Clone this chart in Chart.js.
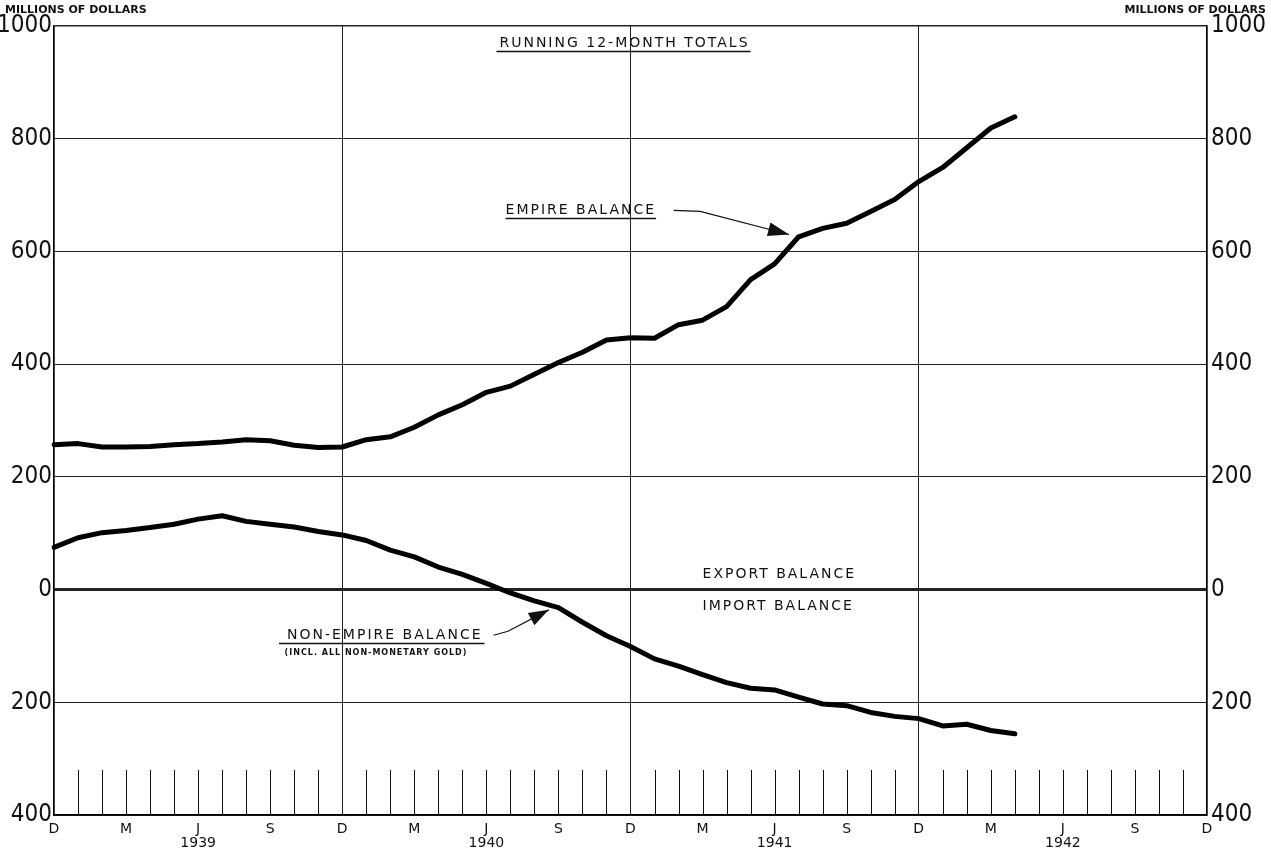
<!DOCTYPE html>
<html>
<head>
<meta charset="utf-8">
<script src="https://cdn.jsdelivr.net/npm/chart.js@4"></script>
<style>
  body { margin: 0; background: #fff; }
  #wrap { width: 1271px; height: 850px; position: relative; }
</style>
</head>
<body>
<div id="wrap"><canvas id="chart" width="1271" height="850"></canvas></div>
<script>
// months run from Dec 1938 to Dec 1942, data ends Apr 1942
const monthLetters = ['J', 'F', 'M', 'A', 'M', 'J', 'J', 'A', 'S', 'O', 'N', 'D'];
const years = ['1939', '1940', '1941', '1942'];

// running 12-month totals, millions of dollars
const empireBalance = [
    257, 259, 253, 253, 254, 257, 259, 262, 266, 264, 256, 252,
    253, 266, 271, 288, 310, 328, 350, 361, 382, 403, 421, 443,
    447, 446, 470, 478, 502, 550, 578, 626, 641, 650, 671, 692,
    724, 749, 784, 819, 839
];
const nonEmpireBalance = [
    75, 92, 101, 105, 110, 116, 125, 131, 121, 116, 111, 103,
    97, 87, 70, 58, 40, 27, 11, -6, -20, -32, -58, -82,
    -101, -123, -136, -151, -165, -175, -178, -191, -203, -206, -218, -225,
    -229, -242, -239, -250, -256
];

const yTicks = [-400, -200, 0, 200, 400, 600, 800, 1000];

const categories = ['D 1938'];
years.forEach(y => monthLetters.forEach(m => categories.push(m + ' ' + y)));

const fontTick = '"Liberation Sans Narrow", "DejaVu Sans Condensed", sans-serif';
const fontText = '"DejaVu Sans", sans-serif';

// short month ticks along the bottom of the plot
const monthTicks = {
    id: 'monthTicks',
    beforeDatasetsDraw(chart) {
        const { ctx, scales: { x, y } } = chart;
        ctx.save();
        ctx.strokeStyle = '#111';
        ctx.lineWidth = 1;
        const y0 = y.getPixelForValue(-400);
        const y1 = y.getPixelForValue(-320);
        categories.forEach((c, i) => {
            if (i % 12 === 0) return;
            const px = Math.round(x.getPixelForValue(i)) + 0.5;
            ctx.beginPath();
            ctx.moveTo(px, y0);
            ctx.lineTo(px, y1);
            ctx.stroke();
        });
        ctx.restore();
    }
};

function arrow(ctx, pts, headLen, headW) {
    ctx.beginPath();
    ctx.moveTo(pts[0][0], pts[0][1]);
    for (let i = 1; i < pts.length; i++) ctx.lineTo(pts[i][0], pts[i][1]);
    ctx.stroke();
    const [ax, ay] = pts[pts.length - 2];
    const [bx, by] = pts[pts.length - 1];
    const ang = Math.atan2(by - ay, bx - ax);
    ctx.save();
    ctx.translate(bx, by);
    ctx.rotate(ang);
    ctx.beginPath();
    ctx.moveTo(0, 0);
    ctx.lineTo(-headLen, -headW / 2);
    ctx.lineTo(-headLen, headW / 2);
    ctx.closePath();
    ctx.fill();
    ctx.restore();
}

const notes = {
    id: 'notes',
    afterDraw(chart) {
        const { ctx, scales: { x, y } } = chart;
        const X = v => x.getPixelForValue(v);
        const Y = v => y.getPixelForValue(v);
        ctx.save();
        ctx.fillStyle = '#111';
        ctx.strokeStyle = '#111';
        ctx.textBaseline = 'middle';

        // unit captions
        ctx.font = 'bold 11px ' + fontText;
        ctx.textAlign = 'left';
        ctx.fillText('MILLIONS OF DOLLARS', 5, 10);
        ctx.textAlign = 'right';
        ctx.fillText('MILLIONS OF DOLLARS', 1266, 10);

        ctx.font = '14px ' + fontText;
        ctx.letterSpacing = '2px';

        // underline: [extra on the left, extra on the right] in px, or null
        function label(text, mx, v, align, underline) {
            ctx.textAlign = align;
            ctx.fillText(text, X(mx), Y(v));
            if (underline) {
                const w = ctx.measureText(text).width;
                const start = align === 'center' ? X(mx) - w / 2 : X(mx);
                const uy = Math.round(Y(v) + 8) + 0.5;
                ctx.lineWidth = 1.4;
                ctx.beginPath();
                ctx.moveTo(start - underline[0], uy);
                ctx.lineTo(start + w + underline[1], uy);
                ctx.stroke();
            }
        }

        label('RUNNING 12-MONTH TOTALS', 23.75, 970, 'center', [3, 1]);
        label('EMPIRE BALANCE', 18.8, 673, 'left', [0, 0]);
        label('NON-EMPIRE BALANCE', 9.7, -81, 'left', [8, 2]);
        label('EXPORT BALANCE', 27, 27, 'left', null);
        label('IMPORT BALANCE', 27, -30, 'left', null);

        ctx.font = 'bold 8px ' + fontText;
        ctx.letterSpacing = '1px';
        label('(INCL. ALL NON-MONETARY GOLD)', 9.6, -113, 'left', null);

        // arrows
        ctx.lineWidth = 1.2;
        arrow(ctx, [[X(25.8), Y(673)], [X(26.9), Y(671)], [X(30.6), Y(630)]], 21, 14);
        arrow(ctx, [[X(18.3), Y(-81)], [X(18.9), Y(-74)], [X(20.6), Y(-36)]], 20, 14);
        ctx.restore();
    }
};

const ctx = document.getElementById('chart').getContext('2d');
new Chart(ctx, {
    type: 'line',
    data: {
        labels: categories,
        datasets: [
            {
                label: 'Empire balance',
                data: empireBalance,
                borderColor: '#000',
                borderWidth: 5,
                pointRadius: 0,
                tension: 0,
                borderJoinStyle: 'round',
                borderCapStyle: 'round'
            },
            {
                label: 'Non-empire balance',
                data: nonEmpireBalance,
                borderColor: '#000',
                borderWidth: 5,
                pointRadius: 0,
                tension: 0,
                borderJoinStyle: 'round',
                borderCapStyle: 'round'
            }
        ]
    },
    options: {
        responsive: false,
        animation: false,
        layout: { padding: { top: 26, left: 0, right: 0, bottom: 0 } },
        plugins: {
            legend: { display: false },
            tooltip: { enabled: false }
        },
        scales: {
            x: {
                type: 'category',
                offset: false,
                afterFit(scale) { scale.height = 35; },
                border: { display: true, color: '#000', width: 1.5 },
                grid: {
                    drawTicks: false,
                    color: c => (c.index % 12 === 0 ? '#222' : 'rgba(0,0,0,0)'),
                    lineWidth: c => (c.index === 0 || c.index === 48 ? 1.5 : 1)
                },
                ticks: {
                    autoSkip: false,
                    maxRotation: 0,
                    padding: 8,
                    color: '#111',
                    font: { family: fontText, size: 14, lineHeight: 0.95 },
                    callback(value, index) {
                        if (index % 3 !== 0) return '';
                        const letter = categories[index].split(' ')[0];
                        if (index % 12 === 6) return [letter, categories[index].split(' ')[1]];
                        return letter;
                    }
                }
            },
            y: {
                position: 'left',
                min: -400,
                max: 1000,
                afterFit(scale) { scale.width = 54; },
                afterBuildTicks(scale) { scale.ticks = yTicks.map(v => ({ value: v })); },
                border: { display: true, color: '#000', width: 1.5 },
                grid: {
                    drawTicks: false,
                    color: '#222',
                    lineWidth: c => (c.tick.value === 0 ? 3 : (c.tick.value === 1000 ? 1.5 : 1))
                },
                ticks: {
                    padding: 2,
                    color: '#111',
                    font: { family: fontTick, size: 24 },
                    callback: v => String(Math.abs(v))
                }
            },
            y2: {
                position: 'right',
                min: -400,
                max: 1000,
                afterFit(scale) { scale.width = 64; },
                afterBuildTicks(scale) { scale.ticks = yTicks.map(v => ({ value: v })); },
                border: { display: true, color: '#000', width: 1.5 },
                grid: { display: false, drawTicks: false },
                ticks: {
                    padding: 4,
                    color: '#111',
                    font: { family: fontTick, size: 24 },
                    callback: v => String(Math.abs(v))
                }
            }
        }
    },
    plugins: [monthTicks, notes]
});
</script>
</body>
</html>
